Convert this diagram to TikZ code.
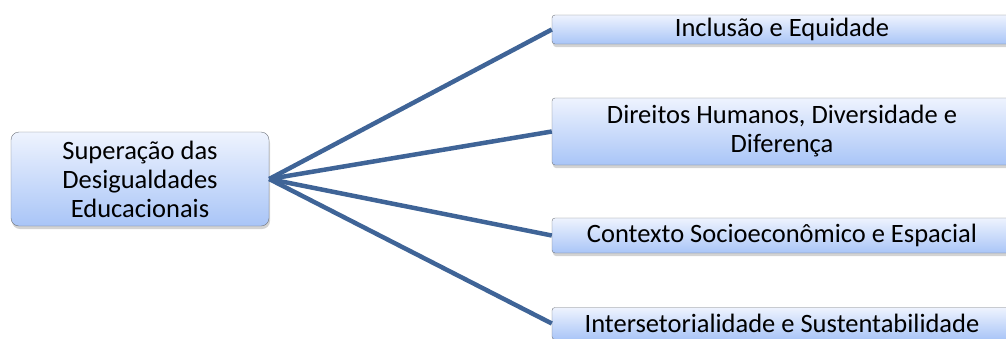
\documentclass[tikz,border=0pt]{standalone}
\usepackage{fontspec}
\setmainfont{Carlito}
\usepackage{xcolor}
\usepackage{tikz}
\usetikzlibrary{positioning,shadows}
\definecolor{BoxTop}{HTML}{EEF3FE}
\definecolor{BoxBottom}{HTML}{A9C5F7}
\definecolor{BoxLine}{HTML}{6F747C}
\definecolor{LinkBlue}{HTML}{3F6497}

\begin{document}
\begin{tikzpicture}[
      x=1pt, y=-1pt,
      every node/.style={align=center, font=\fontsize{26.5}{29}\selectfont},
      root/.style={draw=BoxLine, top color=BoxTop, bottom color=BoxBottom, rounded corners=8pt,
        minimum width=258pt, minimum height=94pt, inner sep=0pt,
        drop shadow={shadow xshift=1pt, shadow yshift=-3pt, opacity=0.35}},
      topic/.style={draw=BoxLine, top color=BoxTop, bottom color=BoxBottom, rounded corners=3pt,
        minimum width=460pt, inner sep=0pt,
        drop shadow={shadow xshift=1pt, shadow yshift=-3pt, opacity=0.35}},
      link/.style={line width=4.5pt, LinkBlue}
    ]
      \useasboundingbox (0,0) rectangle (1006,338);
      \node[root] (goal) at (140,179) {Superação das\\Desigualdades\\Educacionais};
      \node[topic, minimum height=29pt] (incl) at (782,29.5) {Inclusão e Equidade};
      \node[topic, minimum height=67pt] (dir) at (782,131.5) {Direitos Humanos, Diversidade e\\Diferença};
      \node[topic, minimum height=35pt] (ctx) at (782,235.5) {Contexto Socioeconômico e Espacial};
      \node[topic, minimum height=32pt] (inter) at (782,323.5) {Intersetorialidade e Sustentabilidade};
      % Links
      \foreach \t in {incl, dir, ctx, inter}
        \draw[link] (goal.east) -- (\t.west);
    \end{tikzpicture}
\end{document}
